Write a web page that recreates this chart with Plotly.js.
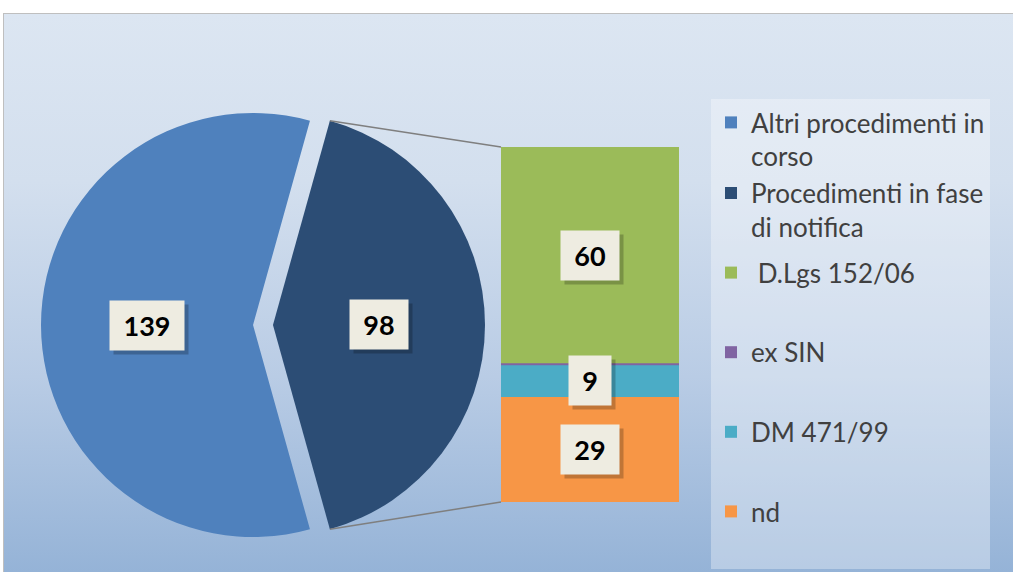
<!DOCTYPE html>
<html><head><meta charset="utf-8">
<script src="https://cdn.plot.ly/plotly-3.0.1.min.js"></script>
<style>
html,body{margin:0;padding:0;background:#fff;width:1013px;height:572px;overflow:hidden}
#bg{position:absolute;left:3px;top:13px;width:1010px;height:559px;box-sizing:border-box;border-left:1px solid #bfbfbf;border-top:1px solid #bfbfbf;background:linear-gradient(to bottom,#dce6f2 0%,#d3dfee 30%,#b9cce5 65%,#95b3d7 100%);}
#chart{position:absolute;left:0;top:0;width:1013px;height:572px}
</style></head><body><div id="bg"></div><div id="chart"></div>
<script>
// ---- data ----
const pieLabels = ['Altri procedimenti in<br>corso', 'Procedimenti in fase<br>di notifica'];
const pieValues = [139, 98];
const barNames = [' D.Lgs 152/06', 'ex SIN', 'DM 471/99', 'nd'];
const barValues = [60, 0, 9, 29];
// ---- styles ----
const pieColors = ['#4f81bd', '#2c4d75'];
const barColors = ['#9bbb59', '#8064a2', '#4bacc6', '#f79646'];

const W = 1013, H = 572;
const pieDom = {x: [41 / W, 485 / W], y: [25 / H, 469 / H]};
const pull = 0.047;
const barDomX = [501 / W, 679 / W];
const barDomY = [70 / H, 425 / H];

const pieTotal = pieValues.reduce((a, b) => a + b, 0);
const barTotal = barValues.reduce((a, b) => a + b, 0);
const rotation = 270 - (pieValues[0] / pieTotal * 360) / 2;

// pie geometry (pixels, y from top)
const pw = (pieDom.x[1] - pieDom.x[0]) * W, ph = (pieDom.y[1] - pieDom.y[0]) * H;
const r = Math.min(pw, ph) / (2 + 2 * pull);
const cx = (pieDom.x[0] + pieDom.x[1]) / 2 * W;
const cy = H - (pieDom.y[0] + pieDom.y[1]) / 2 * H;
let acc = rotation;
const slices = pieValues.map(v => {
  const a0 = acc; acc += v / pieTotal * 360;
  return {a0: a0, a1: acc, mid: (a0 + acc) / 2};
});
function polar(center, ang, rad) {
  const t = ang * Math.PI / 180;
  return [center[0] + rad * Math.sin(t), center[1] - rad * Math.cos(t)];
}
function toPaper(p) { return [p[0] / W, 1 - p[1] / H]; }
const sliceCenters = slices.map(s => polar([cx, cy], s.mid, pull * r));

const labelFont = {family: 'Lato, Carlito, sans-serif', size: 27, color: '#000000'};
const annotations = [];
function addLabel(base, text) {
  const w = 24 + 16 * String(text).length;
  const common = {showarrow: false, xanchor: 'center', yanchor: 'middle', width: w, height: 47};
  // soft drop shadow box (no text)
  annotations.push(Object.assign({}, base, common, {text: ' ', bgcolor: 'rgba(0,0,0,0.22)',
    font: labelFont, xshift: 4, yshift: -4}));
  annotations.push(Object.assign({}, base, common, {text: '<b>' + text + '</b>',
    bgcolor: '#eeece1', font: labelFont}));
}
// pie labels
slices.forEach((s, i) => {
  const p = toPaper(polar(sliceCenters[i], s.mid, 0.5 * r));
  addLabel({xref: 'paper', yref: 'paper', x: p[0], y: p[1]}, pieValues[i]);
});

const traces = [{
  type: 'pie', labels: pieLabels, values: pieValues, sort: false, direction: 'clockwise',
  rotation: rotation, pull: pieValues.map(() => pull), domain: pieDom,
  marker: {colors: pieColors, line: {width: 0}}, textinfo: 'none', hoverinfo: 'label+value',
  legendgroup: 'pie', legendrank: 1
}];
// bar traces (stack bottom-first)
let cum = 0;
const shapes = [];
for (let i = barNames.length - 1; i >= 0; i--) {
  const v = barValues[i];
  traces.push({
    type: 'bar', x: [0], y: [v], width: 1, name: barNames[i] + '<br> ',
    marker: {color: barColors[i], line: {width: 0}}, xaxis: 'x', yaxis: 'y',
    legendgroup: 'g' + i, legendrank: 2 + i, hoverinfo: 'name+y'
  });
  if (v > 0) addLabel({xref: 'x', yref: 'y', x: 0, y: cum + v / 2}, v);
  else shapes.push({type: 'line', xref: 'x', yref: 'y', x0: -0.5, x1: 0.5, y0: cum, y1: cum,
    line: {color: barColors[i], width: 2}});
  cum += v;
}

// connector lines from the exploded slice to the bar
const dark = slices[1];
const pTop = toPaper(polar(sliceCenters[1], dark.a0, r));
const pBot = toPaper(polar(sliceCenters[1], dark.a1, r));
shapes.push({type: 'line', xref: 'paper', yref: 'paper', x0: pTop[0], y0: pTop[1], x1: barDomX[0], y1: barDomY[1], line: {color: '#7f7f7f', width: 1.5}});
shapes.push({type: 'line', xref: 'paper', yref: 'paper', x0: pBot[0], y0: pBot[1], x1: barDomX[0], y1: barDomY[0], line: {color: '#7f7f7f', width: 1.5}});

const layout = {
  width: W, height: H, autosize: false,
  margin: {l: 0, r: 0, t: 0, b: 0, pad: 0},
  paper_bgcolor: 'rgba(0,0,0,0)', plot_bgcolor: 'rgba(0,0,0,0)',
  barmode: 'stack', bargap: 0,
  xaxis: {domain: barDomX, range: [-0.5, 0.5], visible: false, fixedrange: true},
  yaxis: {domain: barDomY, range: [0, barTotal], visible: false, fixedrange: true},
  showlegend: true,
  legend: {x: 711 / W, y: 1 - 99 / H, xanchor: 'left', yanchor: 'top', valign: 'top',
    traceorder: 'grouped', bgcolor: 'rgba(255,255,255,0.33)', borderwidth: 0, tracegroupgap: 9,
    font: {family: 'Lato, Carlito, sans-serif', size: 26, color: '#404040'}},
  shapes: shapes, annotations: annotations
};
Plotly.newPlot('chart', traces, layout, {displayModeBar: false, staticPlot: true});
</script></body></html>
